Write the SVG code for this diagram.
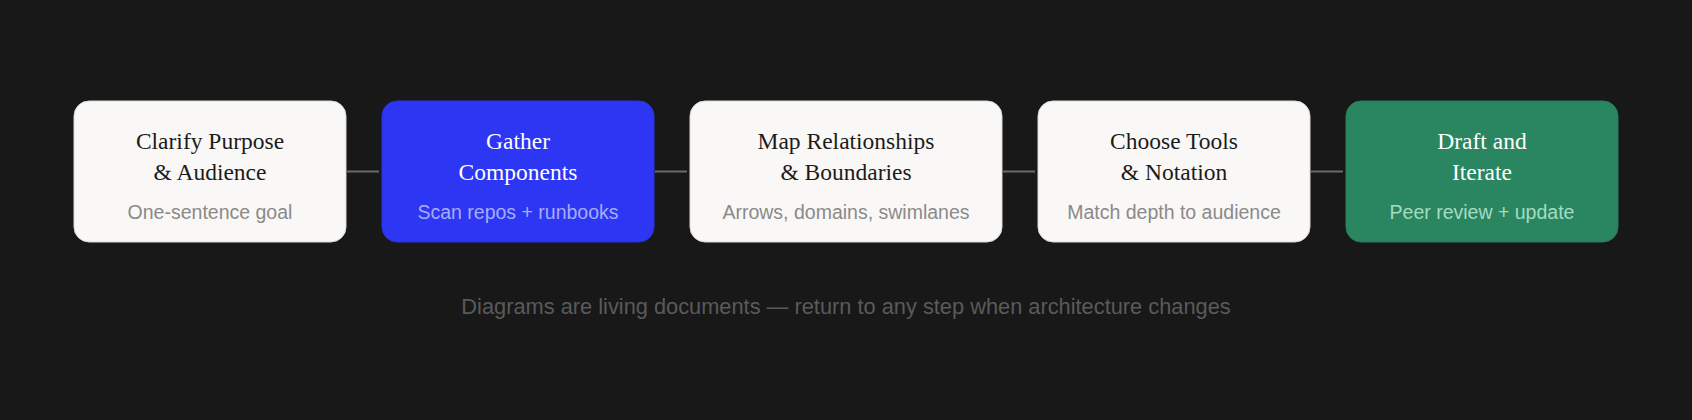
<svg xmlns="http://www.w3.org/2000/svg" width="1692" height="420" viewBox="0 0 1692 420">
<style>
.box{stroke-width:1}
.light{fill:#f9f8f6;stroke:#d9d8d5}
.blue{fill:#2d36f2;stroke:#2a33e0}
.green{fill:#2a8661;stroke:#277c5a}
.t{font-family:"Liberation Serif","Times New Roman",serif;font-size:23.5px;text-anchor:middle}
.s{font-family:"Liberation Sans",Arial,sans-serif;font-size:19.5px;text-anchor:middle}
.dark{fill:#1b1b1b}
.white{fill:#ffffff}
.sg{fill:#8a8a8a}
.sb{fill:#a6adf8}
.sgr{fill:#a4dcc0}
.conn{stroke:#6a6a6a;stroke-width:2;fill:none}
.foot{font-family:"Liberation Sans",Arial,sans-serif;font-size:21.8px;fill:#5a5a5a;text-anchor:middle}
</style>
<rect width="1692" height="420" fill="#181818"/>
<g id="connectors">
<line class="conn" x1="347" y1="171.5" x2="379" y2="171.5"/>
<line class="conn" x1="655" y1="171.5" x2="687" y2="171.5"/>
<line class="conn" x1="1003" y1="171.5" x2="1035" y2="171.5"/>
<line class="conn" x1="1311" y1="171.5" x2="1343" y2="171.5"/>
</g>
<g id="node1">
<rect class="box light" x="74" y="101" width="272" height="141" rx="15"/>
<text class="t dark" x="210" y="149">Clarify Purpose</text>
<text class="t dark" x="210" y="180">&amp; Audience</text>
<text class="s sg" x="210" y="219">One-sentence goal</text>
</g>
<g id="node2">
<rect class="box blue" x="382" y="101" width="272" height="141" rx="15"/>
<text class="t white" x="518" y="149">Gather</text>
<text class="t white" x="518" y="180">Components</text>
<text class="s sb" x="518" y="219">Scan repos + runbooks</text>
</g>
<g id="node3">
<rect class="box light" x="690" y="101" width="312" height="141" rx="15"/>
<text class="t dark" x="846" y="149">Map Relationships</text>
<text class="t dark" x="846" y="180">&amp; Boundaries</text>
<text class="s sg" x="846" y="219">Arrows, domains, swimlanes</text>
</g>
<g id="node4">
<rect class="box light" x="1038" y="101" width="272" height="141" rx="15"/>
<text class="t dark" x="1174" y="149">Choose Tools</text>
<text class="t dark" x="1174" y="180">&amp; Notation</text>
<text class="s sg" x="1174" y="219">Match depth to audience</text>
</g>
<g id="node5">
<rect class="box green" x="1346" y="101" width="272" height="141" rx="15"/>
<text class="t white" x="1482" y="149">Draft and</text>
<text class="t white" x="1482" y="180">Iterate</text>
<text class="s sgr" x="1482" y="219">Peer review + update</text>
</g>
<text class="foot" x="846" y="314">Diagrams are living documents — return to any step when architecture changes</text>
</svg>
